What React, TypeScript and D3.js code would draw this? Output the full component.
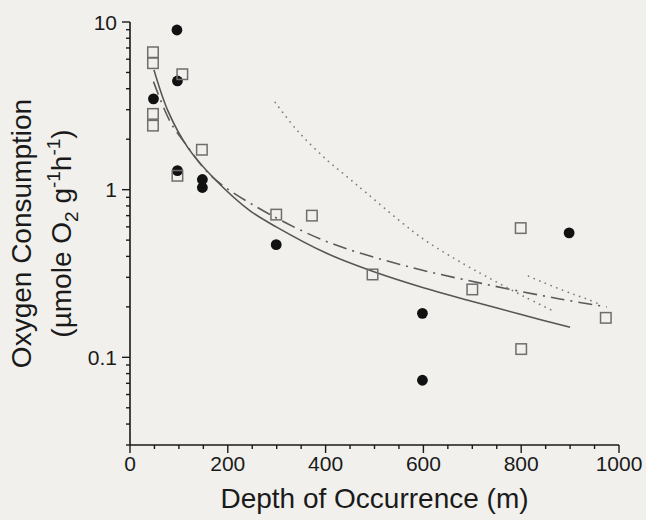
import React, { useEffect, useRef } from 'react';
import * as d3 from 'd3';

// filled circles
const circleDepth = [48, 96, 97, 97, 148, 148, 299, 598, 598, 898];
const circleRate = [3.48, 8.96, 4.45, 1.3, 1.15, 1.03, 0.47, 0.183, 0.073, 0.552];

// open squares
const squareDepth = [47, 47, 47, 47, 97, 107, 147, 299, 372, 496, 700, 799, 800, 973];
const squareRate = [6.6, 5.68, 2.83, 2.41, 1.21, 4.88, 1.73, 0.71, 0.7, 0.312, 0.254, 0.59, 0.112, 0.172];

// fitted curves
const solidDepth = [49, 78, 119, 174, 245, 299, 400, 496, 600, 689, 800, 900];
const solidRate = [5.18, 2.93, 1.77, 1.15, 0.75, 0.6, 0.42, 0.326, 0.26, 0.22, 0.18, 0.151];

const dashDotDepth = [48, 82, 112, 167, 252, 395, 552, 719, 879, 975];
const dashDotRate = [4.41, 2.55, 1.9, 1.2, 0.81, 0.5, 0.358, 0.276, 0.223, 0.2];

const dottedDepth = [297, 344, 402, 443, 481, 552, 603, 684, 746, 804, 864];
const dottedRate = [3.31, 2.22, 1.51, 1.2, 0.97, 0.65, 0.5, 0.358, 0.285, 0.232, 0.19];

const dotted2Depth = [815, 845, 903, 934, 961];
const dotted2Rate = [0.305, 0.28, 0.24, 0.223, 0.207];

const xTickLabels = [0, 200, 400, 600, 800, 1000];
const yTickLabels = [0.1, 1, 10];

const BG = '#f1f0ec';
const INK = '#1a1a1a';
const FONT = '"Liberation Sans", Arial, Helvetica, sans-serif';

export default function App() {
  const svgRef = useRef<SVGSVGElement>(null);

  useEffect(() => {
    document.body.style.margin = '0';
    document.body.style.background = BG;

    const svg = d3.select(svgRef.current);
    if (!svg.node()) return;
    svg.selectAll('*').remove();

    const width = 646, height = 520;
    const x = d3.scaleLinear().domain([0, 1000]).range([130, 619]);
    const y = d3.scaleLog().domain([0.03, 10]).range([445, 22]);

    svg.append('rect').attr('width', width).attr('height', height).attr('fill', BG);

    // x axis
    const xAxis = svg.append('g');
    xAxis.append('line')
      .attr('x1', x(0)).attr('x2', x(1000))
      .attr('y1', y(0.03)).attr('y2', y(0.03))
      .attr('stroke', INK).attr('stroke-width', 1.6);
    const xTicks = d3.range(0, 1001, 50);
    xAxis.selectAll('line.tick')
      .data(xTicks)
      .join('line')
      .attr('class', 'tick')
      .attr('x1', d => x(d)).attr('x2', d => x(d))
      .attr('y1', y(0.03))
      .attr('y2', d => y(0.03) + (d % 200 === 0 ? 8 : 4))
      .attr('stroke', INK).attr('stroke-width', 1.4);
    xAxis.selectAll('text')
      .data(xTickLabels)
      .join('text')
      .attr('x', d => x(d))
      .attr('y', 471)
      .attr('text-anchor', 'middle')
      .attr('font-family', FONT)
      .attr('font-size', 21)
      .attr('fill', INK)
      .text(d => d);

    // y axis
    const yAxis = svg.append('g');
    yAxis.append('line')
      .attr('x1', x(0)).attr('x2', x(0))
      .attr('y1', y(0.03)).attr('y2', y(10))
      .attr('stroke', INK).attr('stroke-width', 1.6);
    const yTicks: number[] = [];
    [0.01, 0.1, 1].forEach(dec => {
      for (let k = 1; k <= 9; k++) {
        const v = +(dec * k).toPrecision(3);
        if (v >= 0.03 - 1e-9 && v <= 10) yTicks.push(v);
      }
    });
    yTicks.push(10);
    yAxis.selectAll('line.tick')
      .data(yTicks)
      .join('line')
      .attr('class', 'tick')
      .attr('x1', x(0))
      .attr('x2', d => x(0) - (yTickLabels.includes(d) ? 8 : 4))
      .attr('y1', d => y(d)).attr('y2', d => y(d))
      .attr('stroke', INK).attr('stroke-width', 1.4);
    yAxis.selectAll('text')
      .data(yTickLabels)
      .join('text')
      .attr('x', 117)
      .attr('y', d => y(d))
      .attr('dy', '0.36em')
      .attr('text-anchor', 'end')
      .attr('font-family', FONT)
      .attr('font-size', 21)
      .attr('fill', INK)
      .text(d => d);

    // axis titles
    svg.append('text')
      .attr('x', x(500))
      .attr('y', 508)
      .attr('text-anchor', 'middle')
      .attr('font-family', FONT)
      .attr('font-size', 28)
      .attr('fill', INK)
      .text('Depth of Occurrence (m)');

    const midY = (y(0.03) + y(10)) / 2;
    svg.append('text')
      .attr('transform', `translate(31,${midY}) rotate(-90)`)
      .attr('text-anchor', 'middle')
      .attr('font-family', FONT)
      .attr('font-size', 28)
      .attr('fill', INK)
      .text('Oxygen Consumption');

    const unit = svg.append('text')
      .attr('transform', `translate(71,${midY}) rotate(-90)`)
      .attr('text-anchor', 'middle')
      .attr('font-family', FONT)
      .attr('font-size', 28)
      .attr('fill', INK);
    unit.append('tspan').text('(µmole O');
    unit.append('tspan').attr('font-size', 19).attr('dy', 7).text('2');
    unit.append('tspan').attr('dy', -7).text(' g');
    unit.append('tspan').attr('font-size', 19).attr('dy', -11).text('-1');
    unit.append('tspan').attr('dy', 11).text('h');
    unit.append('tspan').attr('font-size', 19).attr('dy', -11).text('-1');
    unit.append('tspan').attr('dy', 11).text(')');

    // curves
    const line = d3.line<[number, number]>()
      .x(d => x(d[0]))
      .y(d => y(d[1]))
      .curve(d3.curveCatmullRom.alpha(0.5));
    const zip = (a: number[], b: number[]) => a.map((v, i) => [v, b[i]] as [number, number]);

    svg.append('path')
      .attr('d', line(zip(solidDepth, solidRate)))
      .attr('fill', 'none').attr('stroke', '#555').attr('stroke-width', 1.6);
    svg.append('path')
      .attr('d', line(zip(dashDotDepth, dashDotRate)))
      .attr('fill', 'none').attr('stroke', '#5a5a5a').attr('stroke-width', 1.6)
      .attr('stroke-dasharray', '14 6 2 6');
    svg.append('path')
      .attr('d', line(zip(dottedDepth, dottedRate)))
      .attr('fill', 'none').attr('stroke', '#7a7a7a').attr('stroke-width', 1.7)
      .attr('stroke-linecap', 'round')
      .attr('stroke-dasharray', '0.1 6');
    svg.append('path')
      .attr('d', line(zip(dotted2Depth, dotted2Rate)))
      .attr('fill', 'none').attr('stroke', '#7a7a7a').attr('stroke-width', 1.7)
      .attr('stroke-linecap', 'round')
      .attr('stroke-dasharray', '0.1 6');

    // points
    svg.selectAll('circle')
      .data(zip(circleDepth, circleRate))
      .join('circle')
      .attr('cx', d => x(d[0]))
      .attr('cy', d => y(d[1]))
      .attr('r', 5.4)
      .attr('fill', '#111');

    const s = 10.5;
    svg.selectAll('rect.sq')
      .data(zip(squareDepth, squareRate))
      .join('rect')
      .attr('class', 'sq')
      .attr('x', d => x(d[0]) - s / 2)
      .attr('y', d => y(d[1]) - s / 2)
      .attr('width', s)
      .attr('height', s)
      .attr('fill', 'none')
      .attr('stroke', '#6e6e6e')
      .attr('stroke-width', 1.5);
  }, []);

  return <svg ref={svgRef} width={646} height={520} style={{ display: 'block' }} />;
}
